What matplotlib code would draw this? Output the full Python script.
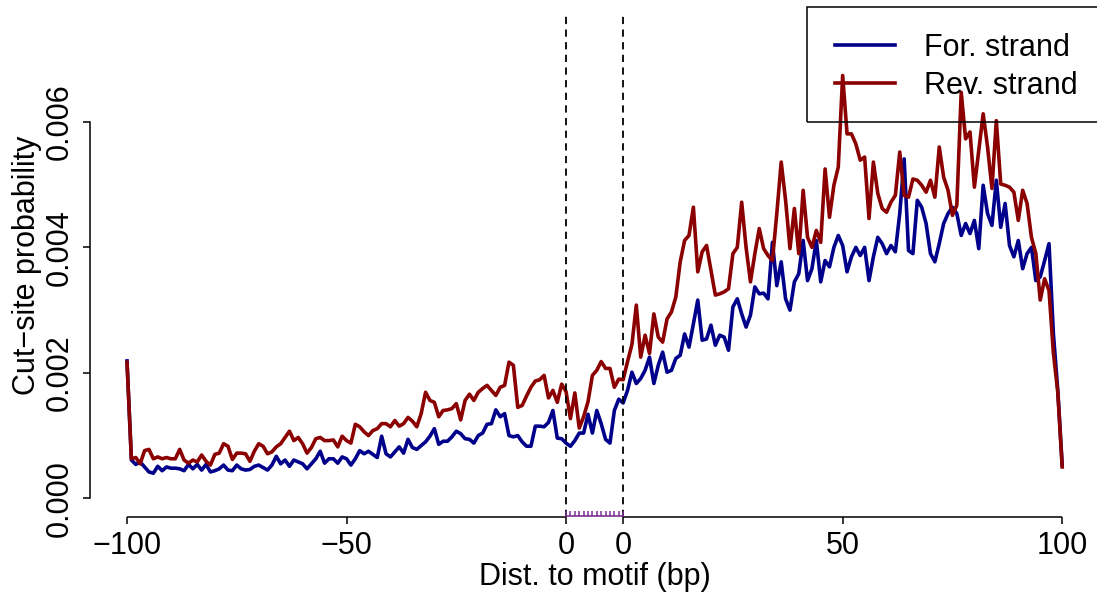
import numpy as np
import matplotlib
matplotlib.use('Agg')
import matplotlib.pyplot as plt
from matplotlib.patches import Rectangle

plt.rcParams['font.family'] = ['Liberation Sans', 'DejaVu Sans']

# ---------------- data ----------------
flank = 100
motif_len = 14

for_strand = [
    0.00219, 0.00061, 0.00054, 0.00058, 0.00050, 0.00042, 0.00040, 0.00051, 0.00044, 0.00050,
    0.00048, 0.00048, 0.00047, 0.00044, 0.00054, 0.00047, 0.00054, 0.00045, 0.00054, 0.00042,
    0.00044, 0.00047, 0.00053, 0.00045, 0.00044, 0.00053, 0.00047, 0.00045, 0.00046, 0.00051,
    0.00053, 0.00049, 0.00045, 0.00053, 0.00067, 0.00055, 0.00061, 0.00051, 0.00061, 0.00058,
    0.00055, 0.00047, 0.00055, 0.00063, 0.00075, 0.00056, 0.00063, 0.00063, 0.00056, 0.00066,
    0.00063, 0.00053, 0.00063, 0.00076, 0.00071, 0.00075, 0.00070, 0.00065, 0.00099, 0.00071,
    0.00066, 0.00074, 0.00082, 0.00072, 0.00094, 0.00081, 0.00078, 0.00084, 0.00090, 0.00099,
    0.00111, 0.00086, 0.00091, 0.00091, 0.00098, 0.00107, 0.00103, 0.00095, 0.00094, 0.00088,
    0.00100, 0.00104, 0.00118, 0.00119, 0.00141, 0.00130, 0.00135, 0.00100, 0.00098, 0.00100,
    0.00090, 0.00083, 0.00083, 0.00115, 0.00115, 0.00114, 0.00121, 0.00140, 0.00096, 0.00095,
    0.00088, 0.00083, 0.00092, 0.00104, 0.00104, 0.00134, 0.00104, 0.00140, 0.00119, 0.00094,
    0.00088, 0.00140, 0.00158, 0.00152, 0.00172, 0.00201, 0.00183, 0.00191, 0.00204, 0.00225,
    0.00183, 0.00212, 0.00233, 0.00201, 0.00204, 0.00223, 0.00228, 0.00262, 0.00241, 0.00278,
    0.00316, 0.00252, 0.00254, 0.00276, 0.00244, 0.00260, 0.00257, 0.00236, 0.00305, 0.00318,
    0.00294, 0.00273, 0.00292, 0.00337, 0.00326, 0.00327, 0.00318, 0.00408, 0.00339, 0.00377,
    0.00318, 0.00300, 0.00345, 0.00358, 0.00411, 0.00347, 0.00366, 0.00411, 0.00345, 0.00379,
    0.00369, 0.00400, 0.00419, 0.00403, 0.00361, 0.00385, 0.00400, 0.00387, 0.00400, 0.00347,
    0.00385, 0.00416, 0.00406, 0.00390, 0.00403, 0.00393, 0.00454, 0.00541, 0.00395, 0.00390,
    0.00475, 0.00464, 0.00438, 0.00390, 0.00377, 0.00406, 0.00438, 0.00454, 0.00464, 0.00454,
    0.00419, 0.00438, 0.00422, 0.00443, 0.00398, 0.00499, 0.00454, 0.00435, 0.00507, 0.00432,
    0.00470, 0.00403, 0.00385, 0.00411, 0.00366, 0.00390, 0.00400, 0.00347, 0.00353, 0.00379,
    0.00406, 0.00262, 0.00172, 0.00053,
]

rev_strand = [
    0.00217, 0.00063, 0.00065, 0.00055, 0.00076, 0.00078, 0.00063, 0.00066, 0.00063, 0.00065,
    0.00063, 0.00063, 0.00078, 0.00061, 0.00056, 0.00061, 0.00058, 0.00069, 0.00059, 0.00053,
    0.00070, 0.00072, 0.00087, 0.00083, 0.00062, 0.00072, 0.00072, 0.00071, 0.00059, 0.00075,
    0.00087, 0.00083, 0.00071, 0.00074, 0.00082, 0.00087, 0.00097, 0.00107, 0.00092, 0.00097,
    0.00087, 0.00072, 0.00081, 0.00095, 0.00097, 0.00092, 0.00092, 0.00093, 0.00082, 0.00099,
    0.00092, 0.00088, 0.00118, 0.00114, 0.00106, 0.00100, 0.00108, 0.00111, 0.00119, 0.00119,
    0.00114, 0.00124, 0.00115, 0.00119, 0.00129, 0.00123, 0.00114, 0.00135, 0.00169, 0.00156,
    0.00153, 0.00130, 0.00140, 0.00141, 0.00143, 0.00151, 0.00125, 0.00156, 0.00166, 0.00156,
    0.00169, 0.00175, 0.00180, 0.00172, 0.00164, 0.00177, 0.00180, 0.00217, 0.00212, 0.00145,
    0.00148, 0.00163, 0.00177, 0.00187, 0.00189, 0.00196, 0.00160, 0.00172, 0.00153, 0.00182,
    0.00170, 0.00127, 0.00168, 0.00112, 0.00130, 0.00154, 0.00196, 0.00204, 0.00218, 0.00207,
    0.00207, 0.00177, 0.00190, 0.00189, 0.00218, 0.00245, 0.00308, 0.00225, 0.00260, 0.00231,
    0.00294, 0.00257, 0.00249, 0.00286, 0.00297, 0.00321, 0.00377, 0.00411, 0.00419, 0.00464,
    0.00361, 0.00393, 0.00403, 0.00363, 0.00324, 0.00326, 0.00329, 0.00334, 0.00390, 0.00400,
    0.00472, 0.00400, 0.00345, 0.00390, 0.00430, 0.00398, 0.00387, 0.00379, 0.00454, 0.00536,
    0.00475, 0.00398, 0.00462, 0.00390, 0.00491, 0.00416, 0.00400, 0.00427, 0.00408, 0.00525,
    0.00448, 0.00499, 0.00528, 0.00674, 0.00581, 0.00581, 0.00565, 0.00539, 0.00544, 0.00446,
    0.00536, 0.00486, 0.00462, 0.00456, 0.00472, 0.00483, 0.00552, 0.00483, 0.00480, 0.00509,
    0.00507, 0.00499, 0.00488, 0.00507, 0.00480, 0.00560, 0.00512, 0.00491, 0.00451, 0.00467,
    0.00647, 0.00573, 0.00584, 0.00496, 0.00555, 0.00613, 0.00560, 0.00494, 0.00602, 0.00501,
    0.00499, 0.00496, 0.00488, 0.00443, 0.00491, 0.00470, 0.00416, 0.00390, 0.00316, 0.00350,
    0.00331, 0.00231, 0.00169, 0.00050,
]

x_tick_labels = ['\u2212100', '\u221250', '0', '0', '50', '100']
y_ticks = [0.000, 0.002, 0.004, 0.006]
y_tick_labels = ['0.000', '0.002', '0.004', '0.006']
legend_labels = ['For. strand', 'Rev. strand']
x_label = 'Dist. to motif (bp)'
y_label = 'Cut\u2212site probability'

# ---------------- figure ----------------
W, H = 1097, 592
FS = 22
fig = plt.figure(figsize=(W / 100, H / 100), dpi=100)
ax = fig.add_axes([89.6 / W, (H - 517) / H, 1010 / W, (517 - 13.4) / H])

n = len(for_strand)
pos = np.arange(n)
right_zero = flank + motif_len - 1

l1, = ax.plot(pos, for_strand, color='#00008B', lw=2.6)
l2, = ax.plot(pos, rev_strand, color='#8B0000', lw=2.6)

ax.set_xlim(-0.04 * (n - 1), (n - 1) * 1.04)
ax.set_ylim(-0.000298, 0.00773)

# motif borders
for xv in (flank, right_zero):
    ax.axvline(xv, color='black', lw=1.3, dashes=(4, 3))

# axes styling (R-like)
for s in ('top', 'right', 'bottom'):
    ax.spines[s].set_visible(False)
ax.spines['left'].set_bounds(0, 0.006)
ax.spines['left'].set_linewidth(1.1)

trans = ax.get_xaxis_transform()
ax.plot([0, flank], [0, 0], transform=trans, color='black', lw=1.1, clip_on=False, solid_capstyle='butt')
ax.plot([right_zero, n - 1], [0, 0], transform=trans, color='black', lw=1.1, clip_on=False, solid_capstyle='butt')

# motif marks
purple = '#7B3294'
motif_pos = np.arange(flank, right_zero + 1)
ax.plot([flank, right_zero], [0.001, 0.001], transform=trans, color=purple, lw=1.2, clip_on=False)
ax.vlines(motif_pos, 0.001, 0.011, transform=trans, colors=purple, lw=1.1, clip_on=False)

xticks = [0, flank // 2, flank, right_zero, right_zero + 50, right_zero + 100]
ax.set_xticks(xticks)
ax.set_xticklabels(x_tick_labels)
ax.set_yticks(y_ticks)
ax.set_yticklabels(y_tick_labels)
ax.tick_params(axis='both', direction='out', length=5, width=1.1, labelsize=FS)
ax.tick_params(axis='x', pad=5)
ax.tick_params(axis='y', pad=6)
for lbl in ax.get_yticklabels():
    lbl.set_rotation(90)
    lbl.set_va('center')

fig.text(594.6 / W, (H - 585) / H, x_label, ha='center', va='baseline', fontsize=FS)
fig.text(27 / W, (H - 265) / H, y_label, rotation=90, ha='center', va='center', fontsize=FS)

# legend (entries) + R-style box
leg = ax.legend([l1, l2], legend_labels, loc='upper left',
                bbox_to_anchor=(809.5 / W, (H - 6.7) / H), bbox_transform=fig.transFigure,
                frameon=False, borderpad=0.85, labelspacing=0.27,
                handlelength=1.95, handletextpad=0.95, borderaxespad=0, fontsize=FS)
box = Rectangle((807 / W, (H - 121.7) / H), (1115 - 807) / W, (121.7 - 6.7) / H,
                transform=fig.transFigure, facecolor='none', edgecolor='black',
                linewidth=1.1, zorder=5)
fig.patches.append(box)

fig.savefig('out.png', dpi=100)
